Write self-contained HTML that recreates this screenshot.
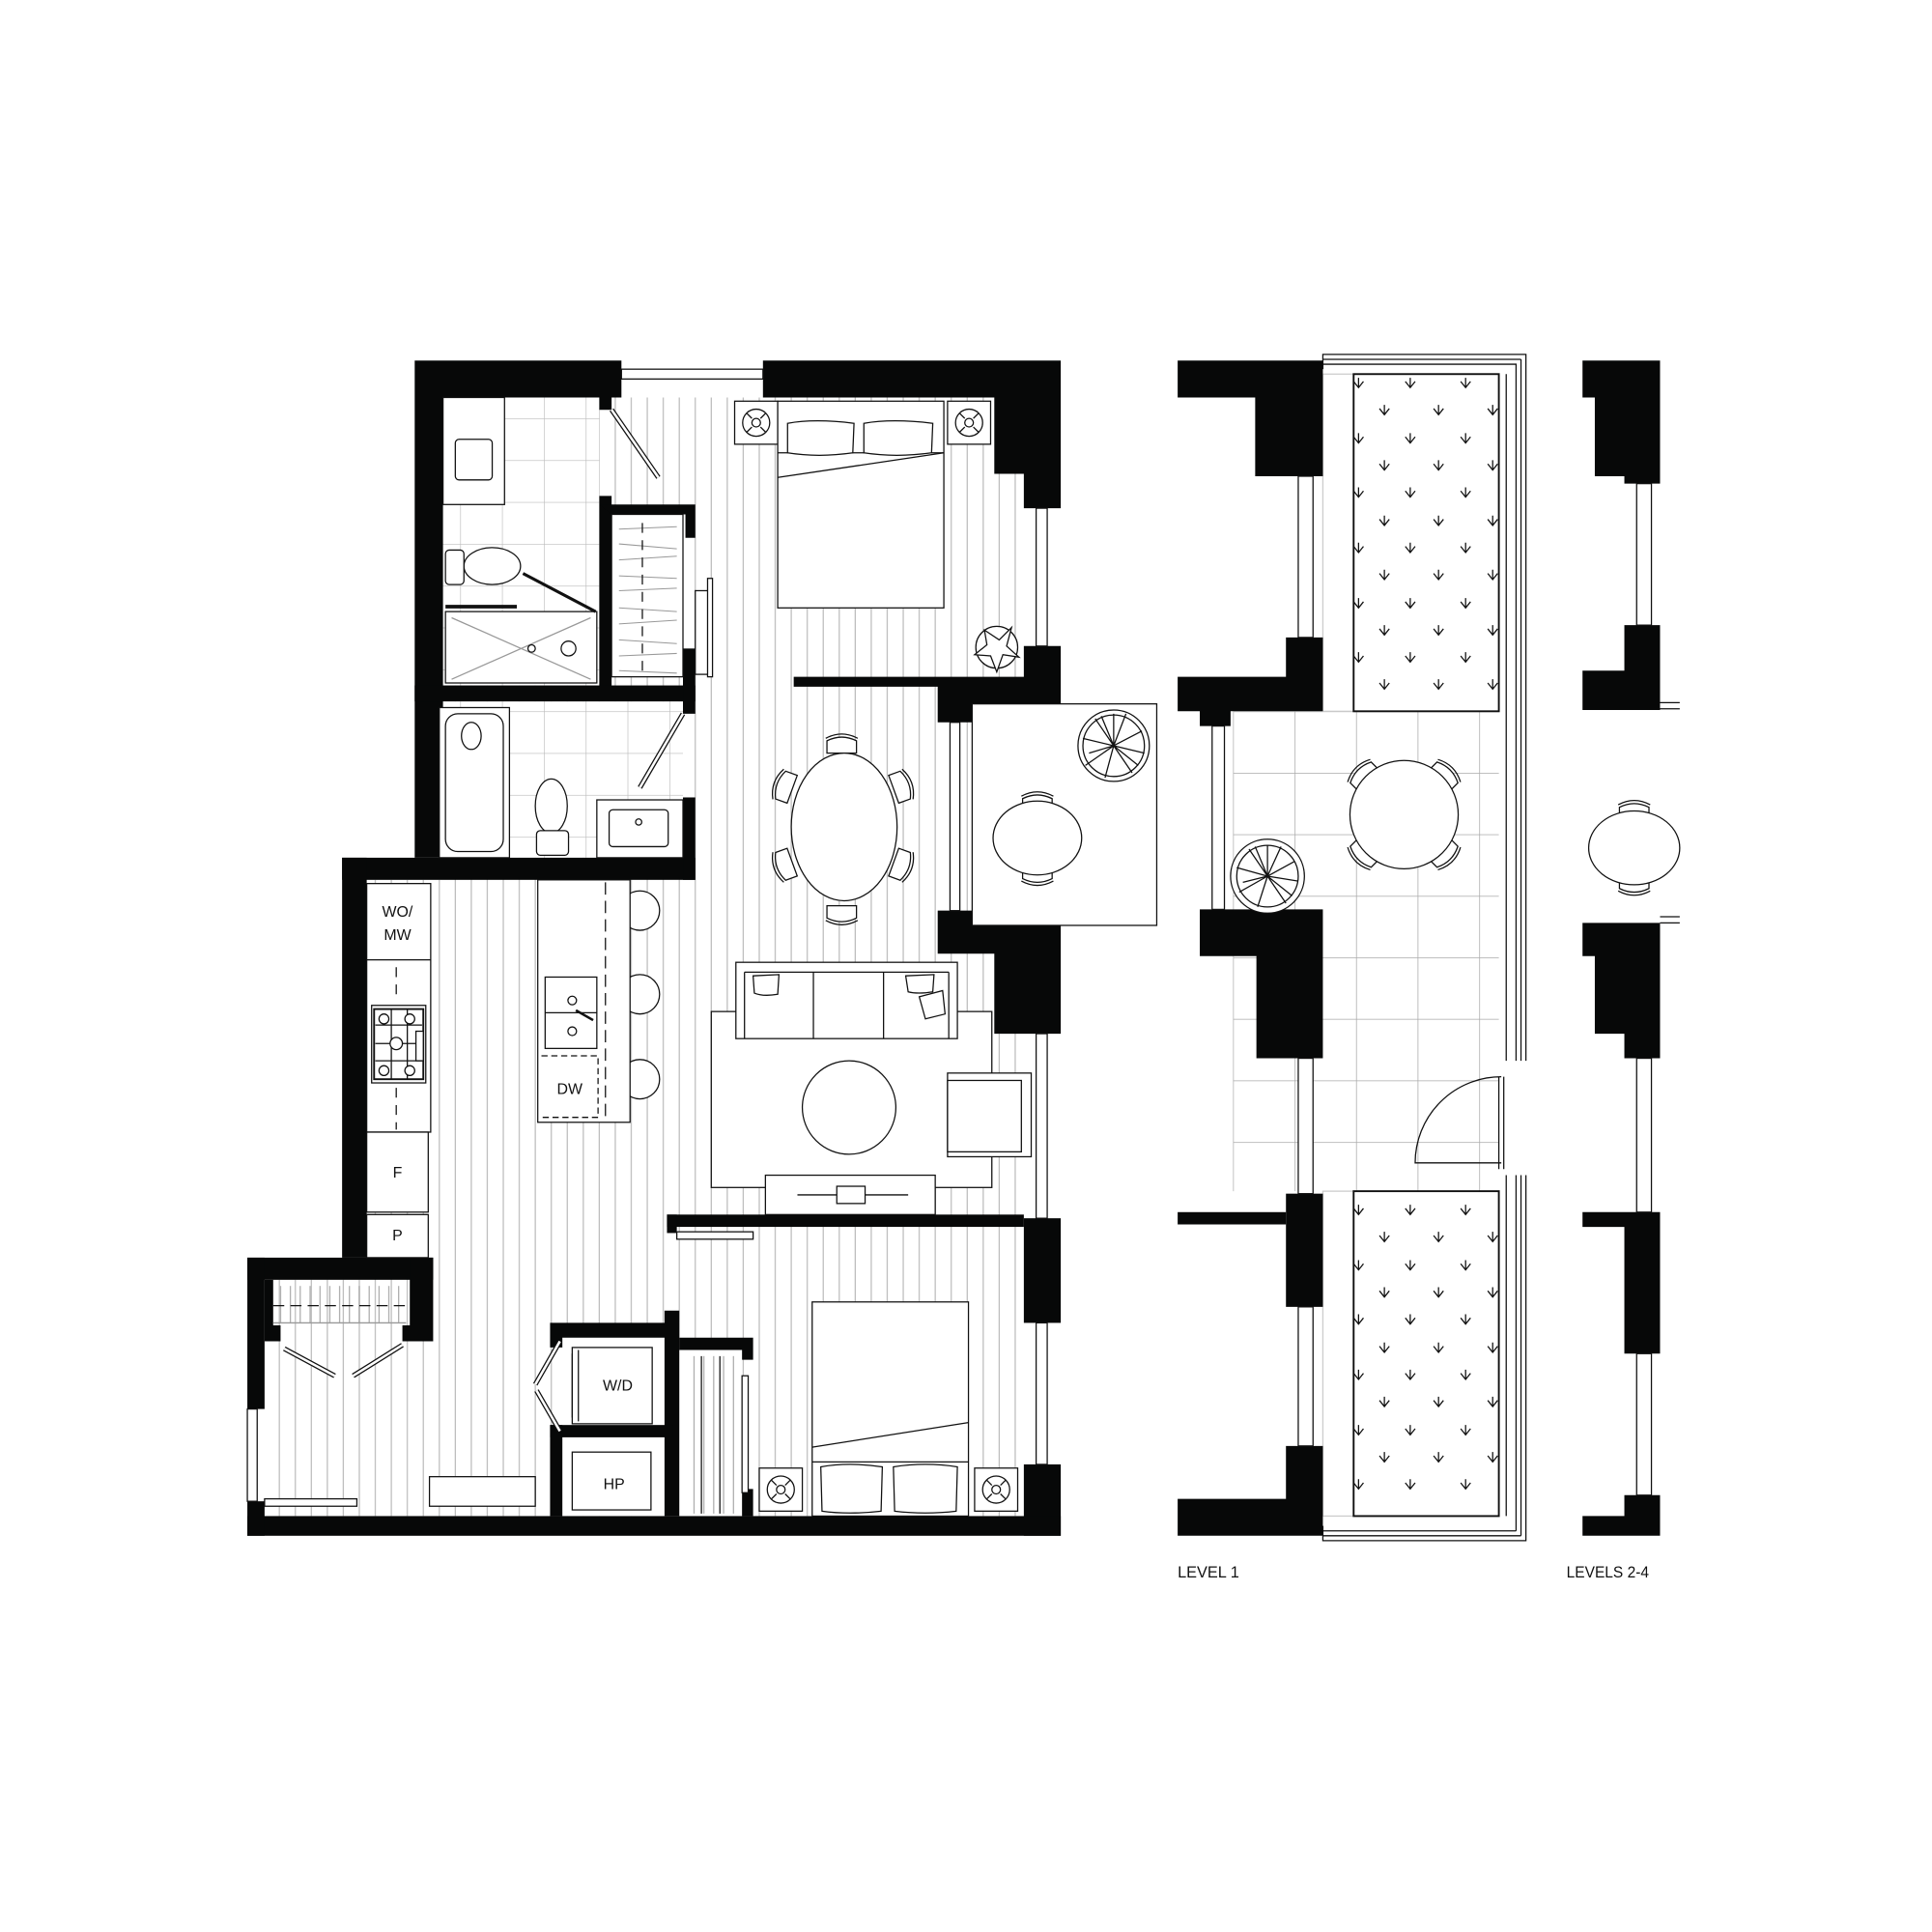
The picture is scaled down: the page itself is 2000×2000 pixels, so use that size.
<!DOCTYPE html>
<html><head><meta charset="utf-8"><style>
html,body{margin:0;padding:0;background:#fff;}
svg{display:block;}
text{font-family:"Liberation Sans",sans-serif;fill:#111;}
</style></head><body>
<svg width="2000" height="2000" viewBox="0 0 1570 1570" xmlns="http://www.w3.org/2000/svg">
<defs>
<pattern id="st" width="13" height="20" patternUnits="userSpaceOnUse"><line x1="6" y1="0" x2="6" y2="20" stroke="#bdbdbd" stroke-width="1"/></pattern>
<pattern id="tile" width="34" height="34" patternUnits="userSpaceOnUse"><path d="M0 0H34M0 0V34" stroke="#bbb" stroke-width="1" fill="none"/></pattern>
<pattern id="ptile" x="2" y="578" width="50" height="50" patternUnits="userSpaceOnUse"><path d="M0 0H50M0 0V50" stroke="#aaa" stroke-width="1.2" fill="none"/></pattern>
<pattern id="hang" width="8" height="8" patternUnits="userSpaceOnUse"><line x1="4" y1="0" x2="4" y2="8" stroke="#999" stroke-width="0.8"/></pattern>
<g id="arr"><path d="M-4,-3 L0,2 L4,-3 M0,-6 V2" stroke="#111" stroke-width="1" fill="none"/></g>
<g id="ns"><rect x="0" y="0" width="35" height="35" fill="#fff" stroke="#111"/><circle cx="17.5" cy="17.5" r="11" fill="none" stroke="#111"/><circle cx="17.5" cy="17.5" r="3.5" fill="none" stroke="#111"/><path d="M10,10 L14,14 M25,10 L21,14 M10,25 L14,21 M25,25 L21,21" stroke="#111"/></g>
<g id="chair"><path d="M-12,-6 Q0,-12 12,-6 L12,4 L-12,4 Z" fill="#fff" stroke="#111"/><path d="M-13,-8 Q0,-15 13,-8" fill="none" stroke="#111"/></g>
</defs>

<path d="M360,323 H832 V1232 H215 V1040 H298 V715 H360 Z" fill="url(#st)"/>
<rect x="360" y="323" width="127" height="234" fill="#fff"/>
<rect x="360" y="323" width="127" height="234" fill="url(#tile)"/>
<rect x="360" y="570" width="195" height="127" fill="#fff"/>
<rect x="360" y="570" width="195" height="127" fill="url(#tile)"/>
<rect x="497" y="418" width="58" height="132" fill="#fff"/>
<rect x="457" y="1085" width="83" height="147" fill="#fff"/>
<rect x="552" y="1097" width="51" height="135" fill="#fff"/>

<g fill="#070808">
<path d="M337,293 H505 V323 H497 V333 H487 V323 H360 V697 H337 Z"/>
<path d="M620,293 H862 V413 H832 V385 H808 V323 H620 Z"/>
<path d="M832,525 H862 V580 H790 V587 H762 V558 H645 V550 H832 Z"/>
<path d="M762,740 H790 V748 H862 V840 H808 V775 H762 Z"/>
<rect x="832" y="990" width="30" height="85"/>
<rect x="832" y="1190" width="30" height="58"/>
<rect x="201" y="1232" width="661" height="16"/>
<rect x="278" y="697" width="287" height="18"/>
<rect x="278" y="697" width="20" height="325"/>
<rect x="201" y="1022" width="151" height="18"/>
<rect x="201" y="1022" width="14" height="123"/>
<rect x="201" y="1220" width="14" height="28"/>
<path d="M333,1022 H352 V1090 H327 V1077 H333 Z"/>
<path d="M215,1040 H222 V1077 H228 V1090 H215 Z"/>
<rect x="487" y="403" width="10" height="155"/>
<path d="M487,410 H565 V437 H557 V418 H497 Z"/>
<rect x="337" y="557" width="228" height="13"/>
<rect x="555" y="527" width="10" height="53"/>
<rect x="555" y="648" width="10" height="67"/>
<rect x="542" y="987" width="290" height="10"/>
<rect x="542" y="987" width="8" height="15"/>
<path d="M447,1075 H540 V1065 H552 V1232 H540 V1087 H457 V1095 H447 Z"/>
<rect x="447" y="1158" width="100" height="10"/>
<rect x="447" y="1158" width="10" height="74"/>
<path d="M552,1087 H612 V1105 H603 V1097 H552 Z"/>
<rect x="603" y="1210" width="9" height="22"/>
</g>

<g fill="#fff" stroke="#111" stroke-width="1">
<rect x="505" y="300" width="115" height="8"/>
<rect x="842" y="413" width="9" height="112"/>
<rect x="842" y="840" width="9" height="150"/>
<rect x="842" y="1075" width="9" height="115"/>
<rect x="772" y="587" width="8" height="153"/>
<rect x="201" y="1145" width="8" height="75"/>
</g>

<g fill="#fff" stroke="#111" stroke-width="1">
<rect x="360" y="323" width="50" height="87"/>
<rect x="370" y="357" width="30" height="33" rx="3"/>
<ellipse cx="400" cy="460" rx="23" ry="15"/>
<rect x="362" y="447" width="15" height="28" rx="3"/>
<rect x="362" y="497" width="123" height="58"/>
<path d="M367,502 L480,552 M480,502 L367,552" stroke="#999"/>
<circle cx="432" cy="527" r="3"/>
<circle cx="462" cy="527" r="6"/>
<rect x="497" y="418" width="58" height="132"/>
<rect x="565" y="480" width="12" height="68"/>
<rect x="575" y="470" width="4" height="80"/>
</g>
<path d="M362,493 H420" stroke="#111" stroke-width="3"/>
<path d="M425,466 L484,497" stroke="#111" stroke-width="2.5"/>
<path d="M497,333 L535,388" stroke="#111" stroke-width="4"/><path d="M497,333 L535,388" stroke="#fff" stroke-width="2"/>
<g stroke="#999" stroke-width="0.8">
<path d="M503,430 L550,428 M503,442 L550,446 M503,455 L550,452 M503,468 L550,470 M503,480 L550,478 M503,494 L550,497 M503,507 L550,504 M503,520 L550,523 M503,533 L550,531 M503,545 L550,547"/>
</g>
<path d="M522,425 V548" stroke="#111" stroke-dasharray="8,6"/>
<path d="M555,580 L520,640" stroke="#111" stroke-width="4"/><path d="M555,580 L520,640" stroke="#fff" stroke-width="2"/>

<g fill="#fff" stroke="#111" stroke-width="1">
<rect x="357" y="575" width="57" height="122"/>
<rect x="362" y="580" width="47" height="112" rx="10"/>
<ellipse cx="383" cy="598" rx="8" ry="11"/>
<ellipse cx="448" cy="655" rx="13" ry="22"/>
<rect x="436" y="675" width="26" height="20" rx="3"/>
<rect x="485" y="650" width="70" height="47"/>
<rect x="495" y="658" width="48" height="30" rx="3"/>
<circle cx="519" cy="668" r="2.5"/>
</g>

<use href="#ns" x="597" y="326"/><use href="#ns" x="770" y="326"/>
<g fill="#fff" stroke="#111" stroke-width="1">
<rect x="632" y="326" width="135" height="168"/>
<path d="M632,388 L767,368"/>
<path d="M632,368 H767"/>
<path d="M640,344 Q662,340 694,344 L693,368 Q665,372 640,368 Z"/>
<path d="M702,344 Q725,340 758,344 L757,368 Q728,372 702,368 Z"/>
</g>
<g fill="#fff" stroke="#111"><circle cx="810" cy="526" r="17"/><path d="M800,512 L812,520 L822,510 L818,525 L828,534 L815,532 L810,546 L805,533 L792,532 L802,524 Z"/></g>

<g fill="#fff" stroke="#111">
<use href="#chair" transform="translate(684,608)"/>
<use href="#chair" transform="translate(684,740) rotate(180)"/>
<use href="#chair" transform="translate(640,640) rotate(-70)"/>
<use href="#chair" transform="translate(730,640) rotate(70)"/>
<use href="#chair" transform="translate(640,702) rotate(-110)"/>
<use href="#chair" transform="translate(730,702) rotate(110)"/>
<ellipse cx="686" cy="672" rx="43" ry="60"/>
</g>

<rect x="790" y="572" width="150" height="180" fill="#fff" stroke="#111"/>
<g fill="#fff" stroke="#111">
<circle cx="905" cy="606" r="29"/><circle cx="905" cy="606" r="25"/>
<path d="M905,606 L905,580 M905,606 L928,594 M905,606 L930,612 M905,606 L920,628 M905,606 L898,632 M905,606 L882,622 M905,606 L880,600 M905,606 L890,584 M905,606 L915,580 M905,606 L925,622 M905,606 L885,612 M905,606 L895,582"/>
<use href="#chair" transform="translate(843,655)"/>
<use href="#chair" transform="translate(843,708) rotate(180)"/>
<ellipse cx="843" cy="681" rx="36" ry="30"/>
</g>

<g fill="#fff" stroke="#111">
<rect x="578" y="822" width="228" height="143"/>
<rect x="598" y="782" width="180" height="62"/>
<path d="M605,790 H771 M661,790 V844 M718,790 V844 M605,790 V844 M771,790 V844"/>
<path d="M612,793 L633,792 L632,808 Q620,810 613,807 Z"/>
<path d="M736,793 L759,792 L758,806 Q746,808 738,806 Z"/>
<path d="M747,810 L766,805 L768,824 L752,828 Z"/>
<circle cx="690" cy="900" r="38"/>
<rect x="770" y="872" width="68" height="68"/>
<rect x="770" y="878" width="60" height="58"/>
<rect x="622" y="955" width="138" height="32"/>
<path d="M648,971 H738"/><rect x="680" y="964" width="23" height="14"/>
</g>

<g fill="#fff" stroke="#111">
<circle cx="520" cy="740" r="16"/><circle cx="520" cy="808" r="16"/><circle cx="520" cy="877" r="16"/>
<rect x="437" y="715" width="75" height="197"/>
<rect x="443" y="794" width="42" height="58"/>
<path d="M443,823 H485"/>
<circle cx="465" cy="813" r="3.5"/><circle cx="465" cy="838" r="3.5"/>
<path d="M468,821 L482,829" stroke-width="2"/>
<rect x="298" y="718" width="52" height="62"/>
<rect x="298" y="780" width="52" height="140"/>
<rect x="302" y="817" width="44" height="63"/>
<rect x="304" y="820" width="40" height="57" stroke-width="1.5"/>
<path d="M305,833 H343 M305,848 H343 M305,862 H343 M318,820 V877 M331,820 V877"/>
<circle cx="312" cy="828" r="4"/><circle cx="333" cy="828" r="4"/><circle cx="322" cy="848" r="5"/><circle cx="312" cy="870" r="4"/><circle cx="333" cy="870" r="4"/>
<rect x="338" y="838" width="6" height="24"/>
<rect x="298" y="920" width="50" height="65"/>
<rect x="298" y="987" width="50" height="35"/>
<rect x="349" y="1200" width="86" height="24"/>
</g>
<path d="M440,858 H486 V908 H440" fill="none" stroke="#111" stroke-dasharray="5,3"/>
<path d="M492,717 V910" stroke="#111" stroke-dasharray="10,5"/>
<path d="M322,786 V814 M322,884 V918" stroke="#111" stroke-dasharray="8,6"/>

<rect x="222" y="1045" width="108" height="30" fill="url(#hang)"/>
<path d="M222,1061 H330" stroke="#111" stroke-dasharray="9,5"/>
<path d="M222,1075 H330" stroke="#999"/>
<g stroke="#111" stroke-width="4"><path d="M231,1096 L272,1118 M287,1118 L327,1093"/></g>
<g stroke="#fff" stroke-width="2"><path d="M231,1096 L272,1118 M287,1118 L327,1093"/></g>
<rect x="215" y="1218" width="75" height="6" fill="#fff" stroke="#111"/>
<rect x="550" y="1001" width="62" height="6" fill="#fff" stroke="#111"/>
<g fill="#fff" stroke="#111">
<rect x="465" y="1095" width="65" height="62"/>
<path d="M470,1097 V1155 M465,1100 V1152"/>
<rect x="465" y="1180" width="64" height="47"/>
<path d="M455,1090 L435,1125 M436,1130 L455,1163" stroke-width="4"/>
</g>
<path d="M455,1090 L435,1125 M436,1130 L455,1163" stroke="#fff" stroke-width="2"/>
<rect x="557" y="1102" width="43" height="128" fill="url(#hang)"/>
<path d="M570,1102 V1230 M585,1102 V1230" stroke="#111"/>
<rect x="603" y="1118" width="5" height="95" fill="#fff" stroke="#111"/>

<use href="#ns" x="617" y="1193"/><use href="#ns" x="792" y="1193"/>
<g fill="#fff" stroke="#111">
<rect x="660" y="1058" width="127" height="174"/>
<path d="M660,1176 L787,1156 M660,1188 H787"/>
<path d="M667,1192 Q690,1188 717,1192 L716,1228 Q690,1231 668,1228 Z"/>
<path d="M726,1192 Q752,1188 778,1192 L777,1228 Q752,1231 727,1228 Z"/>
</g>

<g font-size="12.5" text-anchor="middle">
<text x="323" y="745">WO/</text><text x="323" y="764">MW</text>
<text x="463" y="889">DW</text>
<text x="323" y="957">F</text><text x="323" y="1008">P</text>
<text x="502" y="1130">W/D</text><text x="499" y="1210">HP</text>
</g>

<rect x="1002" y="578" width="216" height="390" fill="url(#ptile)"/>
<rect x="1075" y="304" width="25" height="274" fill="#fff" stroke="#ccc"/>
<rect x="1075" y="968" width="25" height="264" fill="#fff" stroke="#ccc"/>
<rect x="1100" y="304" width="118" height="274" fill="#fff" stroke="#111" stroke-width="1.5"/>
<rect x="1100" y="968" width="118" height="264" fill="#fff" stroke="#111" stroke-width="1.5"/>
<g id="arrs">
<use href="#arr" x="1104" y="313"/><use href="#arr" x="1146" y="313"/><use href="#arr" x="1191" y="313"/>
<use href="#arr" x="1125" y="335"/><use href="#arr" x="1169" y="335"/><use href="#arr" x="1213" y="335"/>
<use href="#arr" x="1104" y="358"/><use href="#arr" x="1146" y="358"/><use href="#arr" x="1191" y="358"/>
<use href="#arr" x="1125" y="380"/><use href="#arr" x="1169" y="380"/><use href="#arr" x="1213" y="380"/>
<use href="#arr" x="1104" y="402"/><use href="#arr" x="1146" y="402"/><use href="#arr" x="1191" y="402"/>
<use href="#arr" x="1125" y="425"/><use href="#arr" x="1169" y="425"/><use href="#arr" x="1213" y="425"/>
<use href="#arr" x="1104" y="447"/><use href="#arr" x="1146" y="447"/><use href="#arr" x="1191" y="447"/>
<use href="#arr" x="1125" y="469"/><use href="#arr" x="1169" y="469"/><use href="#arr" x="1213" y="469"/>
<use href="#arr" x="1104" y="492"/><use href="#arr" x="1146" y="492"/><use href="#arr" x="1191" y="492"/>
<use href="#arr" x="1125" y="514"/><use href="#arr" x="1169" y="514"/><use href="#arr" x="1213" y="514"/>
<use href="#arr" x="1104" y="536"/><use href="#arr" x="1146" y="536"/><use href="#arr" x="1191" y="536"/>
<use href="#arr" x="1125" y="558"/><use href="#arr" x="1169" y="558"/><use href="#arr" x="1213" y="558"/>
</g>
<g transform="translate(0,672)">
<use href="#arr" x="1104" y="313"/><use href="#arr" x="1146" y="313"/><use href="#arr" x="1191" y="313"/>
<use href="#arr" x="1125" y="335"/><use href="#arr" x="1169" y="335"/><use href="#arr" x="1213" y="335"/>
<use href="#arr" x="1104" y="358"/><use href="#arr" x="1146" y="358"/><use href="#arr" x="1191" y="358"/>
<use href="#arr" x="1125" y="380"/><use href="#arr" x="1169" y="380"/><use href="#arr" x="1213" y="380"/>
<use href="#arr" x="1104" y="402"/><use href="#arr" x="1146" y="402"/><use href="#arr" x="1191" y="402"/>
<use href="#arr" x="1125" y="425"/><use href="#arr" x="1169" y="425"/><use href="#arr" x="1213" y="425"/>
<use href="#arr" x="1104" y="447"/><use href="#arr" x="1146" y="447"/><use href="#arr" x="1191" y="447"/>
<use href="#arr" x="1125" y="469"/><use href="#arr" x="1169" y="469"/><use href="#arr" x="1213" y="469"/>
<use href="#arr" x="1104" y="492"/><use href="#arr" x="1146" y="492"/><use href="#arr" x="1191" y="492"/>
<use href="#arr" x="1125" y="514"/><use href="#arr" x="1169" y="514"/><use href="#arr" x="1213" y="514"/>
<use href="#arr" x="1104" y="536"/><use href="#arr" x="1146" y="536"/><use href="#arr" x="1191" y="536"/>
</g>
<g fill="none" stroke="#111" stroke-width="1">
<path d="M1075,300 V288 H1240 V862 M1075,296 H1232 V862 M1075,292 H1236 M1224,304 V862 M1236,292 V862"/>
<path d="M1075,1240 V1252 H1240 V955 M1075,1244 H1232 M1075,1248 H1236 M1224,1232 V955 M1232,955 V1244 M1236,955 V1248"/>
<path d="M1220,945 H1150 A70,70 0 0 1 1220,875 M1218,875 V950 M1222,875 V950"/>
</g>
<g fill="#070808">
<path d="M957,293 H1075 V578 H1000 V590 H975 V578 H957 V550 H1045 V518 H1075 V387 H1020 V323 H957 Z"/>
<path d="M975,739 H1075 V860 H1021 V777 H975 Z"/>
<rect x="957" y="985" width="88" height="10"/>
<rect x="1045" y="970" width="30" height="92"/>
<path d="M1045,1175 H1075 V1248 H957 V1218 H1045 Z"/>
</g>
<g fill="#fff" stroke="#111">
<rect x="1055" y="387" width="12" height="131"/>
<rect x="985" y="590" width="10" height="149"/>
<rect x="1055" y="860" width="12" height="110"/>
<rect x="1055" y="1062" width="12" height="113"/>
<circle cx="1030" cy="712" r="30"/><circle cx="1030" cy="712" r="25"/>
<path d="M1030,712 L1030,687 M1030,712 L1052,700 M1030,712 L1055,716 M1030,712 L1045,734 M1030,712 L1022,737 M1030,712 L1007,725 M1030,712 L1005,705 M1030,712 L1015,690 M1030,712 L1041,688 M1030,712 L1050,728 M1030,712 L1010,717 M1030,712 L1020,688"/>
<use href="#chair" transform="translate(1110,632) rotate(-45)"/>
<use href="#chair" transform="translate(1172,632) rotate(45)"/>
<use href="#chair" transform="translate(1110,692) rotate(-135)"/>
<use href="#chair" transform="translate(1172,692) rotate(135)"/>
<circle cx="1141" cy="662" r="44"/>
</g>

<g fill="#070808">
<path d="M1286,293 H1349 V393 H1320 V387 H1296 V323 H1286 Z"/>
<path d="M1320,508 H1349 V577 H1286 V545 H1320 Z"/>
<path d="M1286,750 H1349 V860 H1320 V840 H1296 V777 H1286 Z"/>
<path d="M1286,985 H1349 V1100 H1320 V997 H1286 Z"/>
<path d="M1320,1215 H1349 V1248 H1286 V1232 H1320 Z"/>
</g>
<g fill="#fff" stroke="#111">
<rect x="1330" y="393" width="12" height="115"/>
<rect x="1330" y="860" width="12" height="125"/>
<rect x="1330" y="1100" width="12" height="115"/>
<path d="M1349,571 H1365 M1349,576 H1365 M1349,745 H1365 M1349,750 H1365"/>
<use href="#chair" transform="translate(1328,662)"/>
<use href="#chair" transform="translate(1328,716) rotate(180)"/>
<ellipse cx="1328" cy="689" rx="37" ry="30"/>
</g>

<text x="957" y="1282" font-size="13" textLength="50" lengthAdjust="spacingAndGlyphs">LEVEL 1</text>
<text x="1273" y="1282" font-size="13" textLength="67" lengthAdjust="spacingAndGlyphs">LEVELS 2-4</text>
</svg>
</body></html>
